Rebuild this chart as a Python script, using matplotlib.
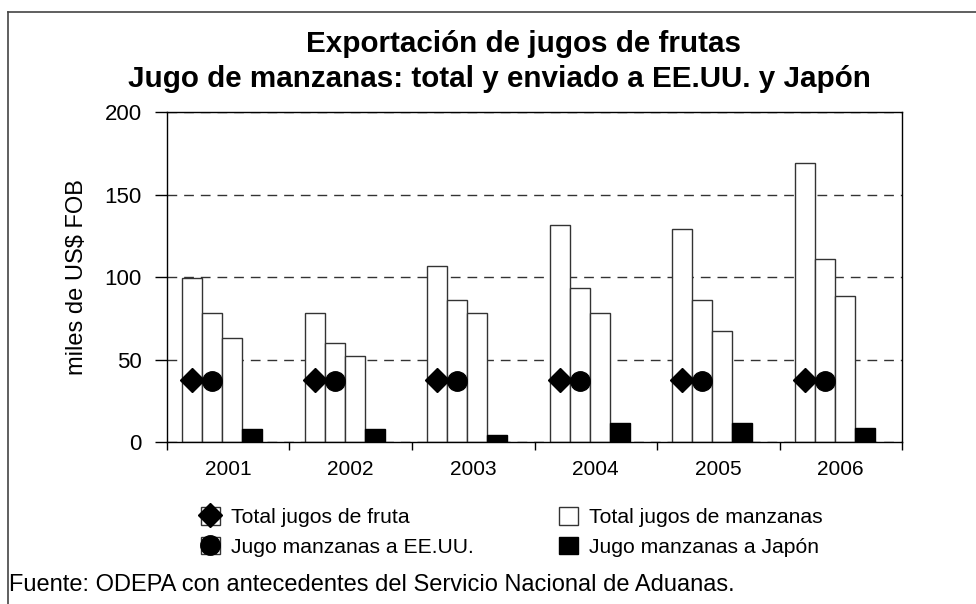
import matplotlib
matplotlib.use("Agg")
import matplotlib.pyplot as plt
import numpy as np
from matplotlib.lines import Line2D
from matplotlib.legend_handler import HandlerTuple

plt.rcParams['font.family'] = ['Liberation Sans', 'DejaVu Sans']

# data (miles de US$ FOB)
years = ['2001', '2002', '2003', '2004', '2005', '2006']
total_frutas = [99.5, 78.5, 107, 131.5, 129, 169.5]
total_manzanas = [78.5, 60, 86, 93.5, 86.5, 111]
manzanas_eeuu = [63.5, 52.5, 78.5, 78.5, 67.5, 88.5]
manzanas_japon = [8, 8, 4.5, 12, 12, 8.5]
marca_frutas = [37.5, 38, 37.5, 37.5, 37.5, 37.5]
marca_eeuu = [37, 37, 37, 37, 37, 37]

fig = plt.figure(figsize=(9.76, 6.04), dpi=100)
ax = fig.add_axes([0.1711, 0.2677, 0.7531, 0.5464])

x = np.arange(len(years))
w = 0.164
edge = '#333333'
b1 = ax.bar(x + (0 - 1.8) * w, total_frutas, w, color='white', edgecolor=edge, lw=1, zorder=2)
b2 = ax.bar(x + (1 - 1.8) * w, total_manzanas, w, color='white', edgecolor=edge, lw=1, zorder=2)
b3 = ax.bar(x + (2 - 1.8) * w, manzanas_eeuu, w, color='white', edgecolor=edge, lw=1, zorder=2)
b4 = ax.bar(x + (3 - 1.8) * w, manzanas_japon, w, color='black', edgecolor='black', lw=1, zorder=2)

m1, = ax.plot(x + (0 - 1.8) * w, marca_frutas, ls='none', marker='D', ms=12.5,
              color='black', zorder=3)
m2, = ax.plot(x + (1 - 1.8) * w, marca_eeuu, ls='none', marker='o', ms=14,
              color='black', zorder=3)

ax.set_xlim(-0.5, len(years) - 0.5)
ax.set_ylim(0, 200)
ax.set_yticks([0, 50, 100, 150, 200])
ax.tick_params(axis='y', direction='out', length=9, width=1, pad=9, labelsize=16)
ax.set_xticks(np.arange(len(years) + 1) - 0.5)
ax.set_xticklabels([])
ax.tick_params(axis='x', which='major', direction='out', length=6, width=1)
ax.set_xticks(x, minor=True)
ax.set_xticklabels(years, minor=True)
ax.tick_params(axis='x', which='minor', length=0, pad=13, labelsize=15)

ax.yaxis.grid(True, linestyle=(0, (7, 5)), color='#333333', lw=1)
ax.set_axisbelow(True)
for s in ax.spines.values():
    s.set_linewidth(1)
    s.set_color('black')

ax.set_ylabel('miles de US$ FOB', fontsize=17, labelpad=12)

fig.text(0.536, 0.927, 'Exportación de jugos de frutas', ha='center', va='center',
         fontsize=21.3, fontweight='bold')
fig.text(0.512, 0.870, 'Jugo de manzanas: total y enviado a EE.UU. y Japón', ha='center',
         va='center', fontsize=21.3, fontweight='bold')

handles = [(b1[0], m1), (b3[0], m2), b2[0], b4[0]]
labels = ['Total jugos de fruta', 'Jugo manzanas a EE.UU.',
          'Total jugos de manzanas', 'Jugo manzanas a Japón']
fig.legend(handles, labels, loc='upper left', bbox_to_anchor=(0.195, 0.178),
           ncol=2, frameon=False, fontsize=15.2, handlelength=0.9, handleheight=0.9,
           handletextpad=0.55, columnspacing=4.0, labelspacing=0.45, borderpad=0,
           handler_map={tuple: HandlerTuple(ndivide=1)})

fig.text(0.009, 0.014, 'Fuente: ODEPA con antecedentes del Servicio Nacional de Aduanas.',
         ha='left', va='bottom', fontsize=17)

# outer frame (only top and left edges are visible in the original)
fig.add_artist(Line2D([0.0085, 0.0085], [0, 1 - 12 / 604], color='#444444', lw=1.2,
                      transform=fig.transFigure))
fig.add_artist(Line2D([0.0085, 1], [1 - 12 / 604, 1 - 12 / 604], color='#444444', lw=1.2,
                      transform=fig.transFigure))

fig.savefig('out.png', dpi=100)
